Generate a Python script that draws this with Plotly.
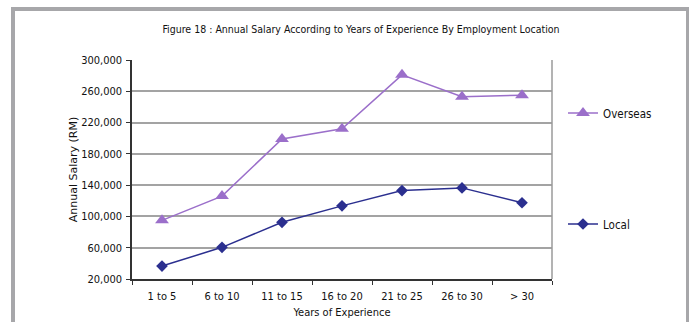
import plotly.graph_objects as go

# Salary data by years of experience
categories = ["1 to 5", "6 to 10", "11 to 15", "16 to 20", "21 to 25", "26 to 30", "> 30"]
overseas = [95000, 126000, 199000, 212000, 281000, 253000, 255000]
local = [36500, 60500, 92500, 113500, 133000, 136500, 117500]
y_ticks = [20000, 60000, 100000, 140000, 180000, 220000, 260000, 300000]

W, H = 689, 322
L, R, T, B = 132, 552, 60, 279  # plot area in pixels

def px(x):
    return (x - L) / (R - L)

def py(y):
    return (B - y) / (B - T)

PURPLE = "#9b6fca"
NAVY = "#2b2f8f"
FRAME = "#a7a7aa"
NARROW = "DejaVu Sans Condensed, Liberation Sans Narrow, sans-serif"

fig = go.Figure()
fig.add_trace(go.Scatter(
    x=categories, y=overseas, name="Overseas", mode="lines+markers",
    line=dict(color=PURPLE, width=1.5),
    marker=dict(symbol="triangle-up", size=12, color=PURPLE),
    legend="legend", showlegend=True,
))
fig.add_trace(go.Scatter(
    x=categories, y=local, name="Local", mode="lines+markers",
    line=dict(color=NAVY, width=1.5),
    marker=dict(symbol="diamond", size=9, color=NAVY),
    legend="legend2", showlegend=True,
))

# Outer frame bands
shapes = [
    dict(type="rect", xref="paper", yref="paper", x0=px(11), x1=px(15), y0=py(H), y1=py(7),
         fillcolor=FRAME, line=dict(width=0), layer="below"),
    dict(type="rect", xref="paper", yref="paper", x0=px(11), x1=px(686), y0=py(11), y1=py(7),
         fillcolor=FRAME, line=dict(width=0), layer="below"),
    dict(type="rect", xref="paper", yref="paper", x0=px(686), x1=px(689), y0=py(H), y1=py(7),
         fillcolor=FRAME, line=dict(width=0), layer="below"),
    # right border of the plot area
    dict(type="line", xref="paper", yref="paper", x0=1, x1=1, y0=0, y1=1,
         line=dict(color="#9a9a9a", width=1.5)),
]

legend_common = dict(
    xanchor="left", yanchor="middle",
    font=dict(family=NARROW, size=11.5, color="#111"),
    bgcolor="rgba(0,0,0,0)", itemwidth=30,
)

fig.update_layout(
    width=W, height=H,
    showlegend=True,
    margin=dict(l=L, r=W - R, t=T, b=H - B, pad=0, autoexpand=False),
    paper_bgcolor="white", plot_bgcolor="white",
    shapes=shapes,
    title=dict(
        text="Figure 18 : Annual Salary According to Years of Experience By Employment Location",
        x=px(361), xanchor="center", xref="paper",
        y=1 - 29 / H, yanchor="middle",
        font=dict(family=NARROW, size=10.5, color="#111"),
    ),
    legend=dict(x=px(563), y=py(113), **legend_common),
    legend2=dict(x=px(563), y=py(224), **legend_common),
    xaxis=dict(
        type="category", range=[-0.5, len(categories) - 0.5],
        automargin=False,
        showline=True, linecolor="#333", linewidth=1.5,
        ticks="outside", tickson="boundaries", ticklen=4, tickcolor="#333",
        ticklabelstandoff=6,
        showgrid=False, zeroline=False,
        tickfont=dict(family=NARROW, size=11, color="#111"),
        title=dict(text="Years of Experience", standoff=6,
                   font=dict(family=NARROW, size=11, color="#111")),
    ),
    yaxis=dict(
        range=[20000, 300000], tickvals=y_ticks,
        ticktext=[f"{v:,}" for v in y_ticks],
        automargin=False,
        showline=True, linecolor="#333", linewidth=1.5,
        ticks="outside", ticklen=4, tickcolor="#333",
        ticklabelstandoff=2,
        showgrid=True, gridcolor="#a3a3a3", gridwidth=1.5, zeroline=False,
        tickfont=dict(family=NARROW, size=11, color="#111"),
        title=dict(text="Annual Salary (RM)", standoff=1,
                   font=dict(family="DejaVu Sans, sans-serif", size=11, color="#111")),
    ),
)

fig.write_html("out.html")
